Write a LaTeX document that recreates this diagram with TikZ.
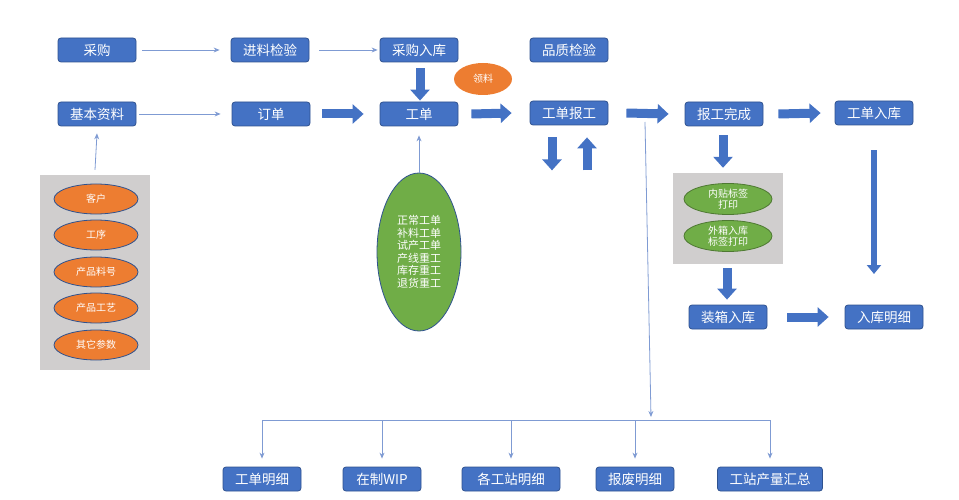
\documentclass[tikz,border=0pt]{standalone}
\usepackage{fontspec}
\setmainfont{Noto Sans CJK SC}
\usepackage{tikz}
\usetikzlibrary{arrows.meta,shapes.geometric}
\definecolor{boxblue}{HTML}{4472C4}
\definecolor{boxedge}{HTML}{2F528F}
\definecolor{thinblue}{HTML}{7F9BD3}
\definecolor{orng}{HTML}{ED7D31}
\definecolor{grn}{HTML}{70AD47}
\definecolor{panelgray}{HTML}{D0CECE}

\begin{document}
\begin{tikzpicture}[x=1pt,y=-1pt]
    \tikzset{box/.style = {shape=rectangle,rounded corners=3pt,draw=boxedge,line width=0.8pt,fill=boxblue,text=white,
        minimum width=78pt,minimum height=24pt,inner sep=2pt,font=\fontsize{13.5}{16}\selectfont}}
    \tikzset{oval/.style = {shape=ellipse,draw=boxedge,line width=0.8pt,fill=orng,text=white,
        minimum width=84pt,minimum height=30pt,inner sep=0pt,font=\fontsize{10}{12}\selectfont}}
    \tikzset{greenoval/.style = {shape=ellipse,draw=grn!70!black,line width=0.8pt,fill=grn,text=white,
        minimum width=88pt,minimum height=31pt,inner sep=0pt,align=center,font=\fontsize{10}{11.5}\selectfont}}
    \tikzset{panel/.style = {shape=rectangle,fill=panelgray,draw=none}}
    \tikzset{link/.style = {draw=thinblue,line width=0.8pt,-{Stealth[length=6pt,width=5pt]}}}
    \tikzset{fat/.style = {draw=boxblue,line width=9pt,-{Triangle[length=11pt,width=19pt]}}}
    \tikzset{fatthin/.style = {draw=boxblue,line width=6pt,-{Triangle[length=9pt,width=14pt]}}}
    \useasboundingbox (0,0) rectangle (959,500);
    % panels
    \node[panel,minimum width=110pt,minimum height=195pt] (leftpanel) at (95,272.5) {};
    \node[panel,minimum width=110pt,minimum height=91pt] (rightpanel) at (728,218.5) {};
    % vertices
    \node[box] (caigou) at (97,50) {采购};
    \node[box] (jinliao) at (270,50) {进料检验};
    \node[box] (cgrk) at (419,50) {采购入库};
    \node[box] (pinzhi) at (569,50) {品质检验};
    \node[oval,draw=none,minimum width=58pt,minimum height=32pt] (lingliao) at (483,79) {领料};
    \node[box] (jiben) at (97,114) {基本资料};
    \node[box] (dingdan) at (271,114) {订单};
    \node[box] (gongdan) at (419,114) {工单};
    \node[box] (baogong) at (569,113) {工单报工};
    \node[box] (wancheng) at (724,114) {报工完成};
    \node[box] (gdrk) at (874,113) {工单入库};
    \node[oval] (kehu) at (96,199) {客户};
    \node[oval] (gongxu) at (96,235) {工序};
    \node[oval] (liaohao) at (96,272) {产品料号};
    \node[oval] (gongyi) at (96,308) {产品工艺};
    \node[oval] (canshu) at (96,345) {其它参数};
    \node[shape=ellipse,draw=boxedge,line width=0.8pt,fill=grn,text=white,minimum width=84pt,minimum height=158pt,
        inner sep=0pt,align=left,font=\fontsize{11}{12.5}\selectfont] (types) at (419,252)
        {正常工单\\补料工单\\试产工单\\产线重工\\库存重工\\退货重工};
    \node[greenoval] (neitie) at (728,199) {内贴标签\\打印};
    \node[greenoval] (waixiang) at (728,236) {外箱入库\\标签打印};
    \node[box] (zhuangxiang) at (728,317) {装箱入库};
    \node[box] (rkmx) at (884,317) {入库明细};
    \node[box] (gdmx) at (262,479) {工单明细};
    \node[box] (wip) at (382,479) {在制WIP};
    \node[box,minimum width=98pt] (gzmx) at (511,479) {各工站明细};
    \node[box] (bfmx) at (635,479) {报废明细};
    \node[box,minimum width=105pt] (clhz) at (770,479) {工站产量汇总};
    \coordinate (bus) at (651,420);
    \coordinate (rkend) at (874,274);
    %edges
    \draw[link] ([xshift=6pt]caigou.east) -- ([xshift=-11pt]jinliao.west);
    \draw[link] ([xshift=10pt]jinliao.east) -- ([xshift=-2pt]cgrk.west);
    \draw[link] ([xshift=3pt]jiben.east) -- ([xshift=-11pt]dingdan.west);
    \draw[link] ([yshift=5pt]leftpanel.north) -- ([yshift=-7pt]jiben.south);
    \draw[link] (types.north) -- ([yshift=-9pt]gongdan.south);
    \draw[fat] ([xshift=1pt,yshift=-6pt]cgrk.south) -- ([xshift=1pt,yshift=1pt]cgrk.south |- gongdan.north);
    \draw[fat] ([xshift=12pt]dingdan.east) -- ([xshift=-16pt]gongdan.west);
    \draw[fat] ([xshift=13pt]gongdan.east) -- ([xshift=-18pt]baogong.west);
    \draw[fat] ([xshift=18pt]baogong.east) -- ([xshift=-16pt]wancheng.west);
    \draw[fat] ([xshift=15pt]wancheng.east) -- ([xshift=-14pt]gdrk.west);
    \draw[fat] ([xshift=-17pt,yshift=-12pt]baogong.south) -- ([xshift=-17pt,yshift=-45pt]baogong.south);
    \draw[fat] ([xshift=18pt,yshift=-45pt]baogong.south) -- ([xshift=18pt,yshift=-12pt]baogong.south);
    \draw[fat] ([xshift=-1pt,yshift=-9pt]wancheng.south) -- ([xshift=-1pt,yshift=5pt]wancheng.south |- rightpanel.north);
    \draw[fat] ([xshift=-1pt,yshift=-4pt]rightpanel.south) -- ([xshift=-1pt,yshift=5pt]rightpanel.south |- zhuangxiang.north);
    \draw[fat] ([xshift=20pt]zhuangxiang.east) -- ([xshift=-16pt]rkmx.west);
    \draw[fatthin] ([yshift=-25pt]gdrk.south) -- (rkend);
    % report bus
    \draw[link] (645,122) -- ([yshift=3pt]bus);
    \draw[draw=thinblue,line width=0.8pt] (gdmx |- bus) -- (clhz |- bus);
    \foreach \n in {gdmx,wip,gzmx,bfmx,clhz}
        \draw[link] (\n |- bus) -- ([yshift=8pt]\n.north);
\end{tikzpicture}
\end{document}
